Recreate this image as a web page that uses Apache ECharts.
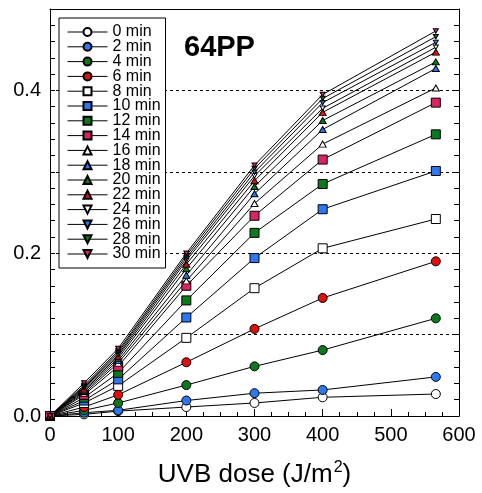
<!DOCTYPE html>
<html>
<head>
<meta charset="utf-8">
<script src="https://cdn.jsdelivr.net/npm/echarts@6/dist/echarts.min.js"></script>
<style>
  html, body { margin: 0; padding: 0; background: #fff; }
  #main { width: 482px; height: 493px; }
</style>
</head>
<body>
<div id="main"></div>
<script>
// UVB dose (J/m2)
var doses = [0, 50, 100, 200, 300, 400, 566];
var yTicks = ['0.0', '0.2', '0.4'];

// absorbance per repair time
var m0 = [0, 0.002, 0.006, 0.011, 0.016, 0.023, 0.027];
var m2 = [0, 0.004, 0.007, 0.019, 0.028, 0.032, 0.048];
var m4 = [0, 0.007, 0.016, 0.038, 0.061, 0.081, 0.120];
var m6 = [0, 0.011, 0.026, 0.066, 0.107, 0.145, 0.190];
var m8 = [0, 0.016, 0.037, 0.096, 0.157, 0.206, 0.242];
var m10 = [0, 0.019, 0.045, 0.121, 0.194, 0.254, 0.301];
var m12 = [0, 0.0225, 0.053, 0.142, 0.225, 0.285, 0.346];
var m14 = [0, 0.026, 0.061, 0.160, 0.246, 0.315, 0.385];
var m16 = [0, 0.028, 0.065, 0.166, 0.261, 0.334, 0.403];
var m18 = [0, 0.030, 0.068, 0.173, 0.273, 0.352, 0.427];
var m20 = [0, 0.0315, 0.071, 0.181, 0.282, 0.363, 0.435];
var m22 = [0, 0.033, 0.0735, 0.1865, 0.289, 0.373, 0.447];
var m24 = [0, 0.0347, 0.0755, 0.191, 0.295, 0.378, 0.453];
var m26 = [0, 0.036, 0.078, 0.194, 0.2995, 0.385, 0.459];
var m28 = [0, 0.0376, 0.080, 0.197, 0.304, 0.390, 0.466];
var m30 = [0, 0.0405, 0.083, 0.200, 0.308, 0.395, 0.473];

var names = ['0 min', '2 min', '4 min', '6 min', '8 min', '10 min', '12 min', '14 min',
  '16 min', '18 min', '20 min', '22 min', '24 min', '26 min', '28 min', '30 min'];
var allValues = [m0, m2, m4, m6, m8, m10, m12, m14, m16, m18, m20, m22, m24, m26, m28, m30];

var WHITE = '#ffffff', BLUE = '#2b78f2', GREEN = '#0c7a1c', RED = '#e10e0e', PINK = '#dc2462';
var downTri = 'path://M0,0L10,0L5,8.66Z';
// marker shape per group of 4
var shapes = [
  { symbol: 'circle', size: 9, colors: [WHITE, BLUE, GREEN, RED] },
  { symbol: 'rect', size: 9, colors: [WHITE, BLUE, GREEN, PINK] },
  { symbol: 'triangle', size: [7, 6], colors: [WHITE, BLUE, GREEN, RED] },
  { symbol: downTri, size: [5, 4.5], colors: [WHITE, BLUE, GREEN, PINK] }
];

var FONT = '"Liberation Sans", Arial, Helvetica, sans-serif';

var series = names.map(function (name, i) {
  var shape = shapes[Math.floor(i / 4)];
  return {
    name: name,
    type: 'line',
    data: doses.map(function (d, j) { return [d, allValues[i][j]]; }),
    symbol: shape.symbol,
    symbolSize: shape.size,
    showAllSymbol: true,
    lineStyle: { color: '#000', width: 1 },
    itemStyle: { color: shape.colors[i % 4], borderColor: '#000', borderWidth: 1 },
    emphasis: { disabled: true },
    animation: false
  };
});

var chart = echarts.init(document.getElementById('main'), null, { renderer: 'canvas' });

var option = {
  backgroundColor: '#fff',
  animation: false,
  title: {
    text: '64PP',
    left: 179,
    top: 28,
    textStyle: { fontFamily: FONT, fontSize: 29, fontWeight: 'bold', color: '#000' }
  },
  legend: {
    orient: 'vertical',
    left: 59,
    top: 18,
    data: names,
    itemWidth: 40,
    itemHeight: 10,
    itemGap: -1.2,
    padding: [6, 5, 6, 8],
    borderColor: '#000',
    borderWidth: 1,
    backgroundColor: '#fff',
    lineStyle: { width: 1, color: '#000' },
    textStyle: { fontFamily: FONT, fontSize: 16, color: '#000' }
  },
  grid: { left: 50, right: 23, top: 9, bottom: 76, containLabel: false },
  xAxis: [{
    type: 'value',
    min: 0,
    max: 600,
    interval: 100,
    position: 'bottom',
    name: '{a|UVB dose (J/m}{s|2}{a|)}',
    nameLocation: 'middle',
    nameGap: 44,
    nameTextStyle: {
      fontFamily: FONT, color: '#000',
      rich: {
        a: { fontFamily: FONT, fontSize: 26, color: '#000' },
        s: { fontFamily: FONT, fontSize: 16, color: '#000', padding: [0, 0, 14, 1] }
      }
    },
    axisLine: { onZero: false, lineStyle: { color: '#000', width: 1 } },
    axisTick: { inside: true, length: 7, lineStyle: { color: '#000' } },
    minorTick: { show: true, splitNumber: 4, length: 4, lineStyle: { color: '#000' } },
    axisLabel: { fontFamily: FONT, fontSize: 20, color: '#000', margin: 9 },
    splitLine: { show: false }
  }, {
    type: 'value',
    min: 0,
    max: 600,
    position: 'top',
    axisLine: { show: true, onZero: false, lineStyle: { color: '#000', width: 1 } },
    axisTick: { show: false },
    axisLabel: { show: false },
    splitLine: { show: false }
  }],
  yAxis: [{
    type: 'value',
    min: 0,
    max: 0.5,
    interval: 0.1,
    position: 'left',
    axisLine: { show: true, onZero: false, lineStyle: { color: '#000', width: 1 } },
    axisTick: { inside: true, length: 5, lineStyle: { color: '#000' } },
    minorTick: { show: true, splitNumber: 5, length: 5, lineStyle: { color: '#000' } },
    axisLabel: {
      fontFamily: FONT, fontSize: 20, color: '#000', margin: 9,
      formatter: function (v) {
        var k = Math.round(v * 10);
        return k % 2 === 0 && yTicks[k / 2] ? yTicks[k / 2] : '';
      }
    },
    splitLine: { show: true, lineStyle: { color: '#000', width: 1, type: [3, 3] } }
  }, {
    type: 'value',
    min: 0,
    max: 0.5,
    interval: 0.1,
    position: 'right',
    axisLine: { show: true, onZero: false, lineStyle: { color: '#000', width: 1 } },
    axisTick: { inside: true, length: 5, lineStyle: { color: '#000' } },
    minorTick: { show: true, splitNumber: 5, length: 5, lineStyle: { color: '#000' } },
    axisLabel: { show: false },
    splitLine: { show: false }
  }],
  series: series
};

chart.setOption(option);
</script>
</body>
</html>
